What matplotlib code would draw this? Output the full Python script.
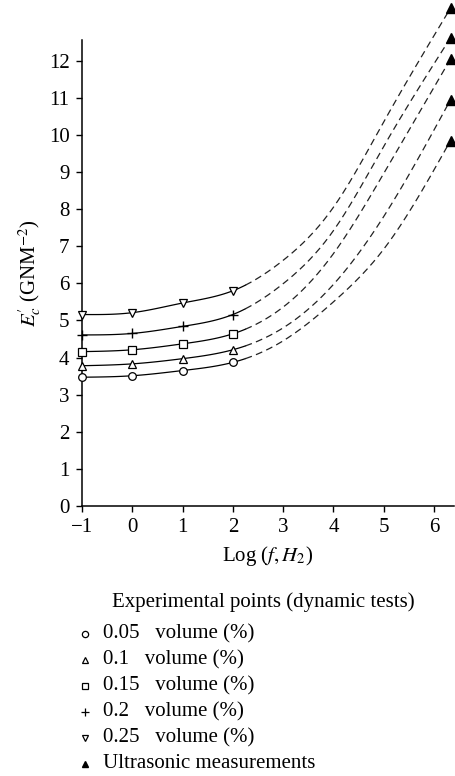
import numpy as np
import matplotlib.pyplot as plt

plt.rcParams['font.family'] = ['Liberation Serif', 'DejaVu Serif']
plt.rcParams['mathtext.fontset'] = 'stix'

# dynamic test frequencies (log f) and storage modulus per filler volume
log_f = [-1, 0, 1, 2]
volumes = ['0.05', '0.1', '0.15', '0.2', '0.25']
E_dyn = {
    '0.05': [3.47, 3.51, 3.65, 3.87],
    '0.1': [3.78, 3.83, 3.97, 4.21],
    '0.15': [4.16, 4.21, 4.37, 4.64],
    '0.2': [4.61, 4.65, 4.84, 5.16],
    '0.25': [5.16, 5.21, 5.47, 5.80],
}
markers = {'0.05': 'o', '0.1': '^', '0.15': 's', '0.2': '+', '0.25': 'v'}

# extrapolated master-curve values between the two test ranges
log_f_mid = [3, 4, 5]
E_mid = {
    '0.05': [4.45, 5.50, 6.92],
    '0.1': [4.80, 5.97, 7.80],
    '0.15': [5.36, 6.80, 8.96],
    '0.2': [5.99, 7.42, 9.69],
    '0.25': [6.62, 8.05, 10.35],
}

# ultrasonic measurements
log_f_us = 6.33
E_us = {'0.05': 9.85, '0.1': 10.95, '0.15': 12.05, '0.2': 12.62, '0.25': 13.42}

solid_end = 2.25
fs = 15


def natural_spline(xk, yk, xs):
    # plain natural cubic spline through the knots
    xk = np.asarray(xk, float)
    yk = np.asarray(yk, float)
    n = len(xk)
    h = np.diff(xk)
    A = np.zeros((n, n))
    r = np.zeros(n)
    A[0, 0] = A[-1, -1] = 1
    for i in range(1, n - 1):
        A[i, i - 1] = h[i - 1]
        A[i, i] = 2 * (h[i - 1] + h[i])
        A[i, i + 1] = h[i]
        r[i] = 3 * ((yk[i + 1] - yk[i]) / h[i] - (yk[i] - yk[i - 1]) / h[i - 1])
    c = np.linalg.solve(A, r)
    b = (yk[1:] - yk[:-1]) / h - h * (2 * c[:-1] + c[1:]) / 3
    d = (c[1:] - c[:-1]) / (3 * h)
    idx = np.clip(np.searchsorted(xk, xs) - 1, 0, n - 2)
    t = xs - xk[idx]
    return yk[idx] + b[idx] * t + c[idx] * t ** 2 + d[idx] * t ** 3


fig = plt.figure(figsize=(4.56, 7.76), dpi=100)
ax = fig.add_axes([0.1798, 0.348, 0.816, 0.600])

for v in volumes:
    xk = log_f + log_f_mid + [log_f_us]
    yk = E_dyn[v] + E_mid[v] + [E_us[v]]
    xs1 = np.linspace(-1, solid_end, 100)
    xs2 = np.linspace(solid_end, log_f_us, 200)
    ax.plot(xs1, natural_spline(xk, yk, xs1), color='black', lw=0.9)
    ax.plot(xs2, natural_spline(xk, yk, xs2), color='#222222', lw=0.9,
            dashes=(5.5, 3.5), clip_on=False)
    if markers[v] == '+':
        ax.plot(log_f, E_dyn[v], ls='none', marker='+', ms=7, mew=1.0,
                color='black', clip_on=False, zorder=3)
    else:
        ax.plot(log_f, E_dyn[v], ls='none', marker=markers[v], ms=5.5,
                mfc='white', mec='black', mew=0.9, clip_on=False, zorder=3)
    ax.plot([log_f_us], [E_us[v]], ls='none', marker='^', ms=6.5,
            color='black', clip_on=False, zorder=3)

ax.set_xlim(-1, 6.4)
ax.set_ylim(0, 12.55)
ax.set_xticks(range(-1, 7))
ax.set_xticklabels(['\u22121'] + [str(i) for i in range(0, 7)])
ax.set_yticks(range(0, 13))
for s in ['top', 'right']:
    ax.spines[s].set_visible(False)
for s in ['left', 'bottom']:
    ax.spines[s].set_linewidth(1.1)
ax.tick_params(direction='out', length=4, width=1, labelsize=fs, pad=5)
ax.set_xlabel(r'Log ($f, H_2$)', fontsize=fs, labelpad=5)
ax.set_ylabel(r"$E_c^{\prime}$ (GNM$^{-2}$)", fontsize=fs, labelpad=4)

# legend block below the axes
leg = fig.add_axes([0, 0, 1, 0.26])
leg.set_xlim(0, 456)
leg.set_ylim(776 * 0.26, 0)
leg.axis('off')
top = 776 * (1 - 0.26)
leg.text(112, 602 - top, 'Experimental points (dynamic tests)', fontsize=fs,
         va='center', ha='left')
rows = [(v, markers[v], v + '   volume (%)') for v in volumes]
rows.append(('us', '^', 'Ultrasonic measurements'))
for i, (v, m, lab) in enumerate(rows):
    y = 634 + i * 26 - top
    if v == 'us':
        leg.plot(85, y, marker='^', ms=5, color='black')
    elif m == '+':
        leg.plot(85, y, marker='+', ms=6, mew=0.9, color='black')
    else:
        leg.plot(85, y, marker=m, ms=4.5, mfc='white', mec='black', mew=0.9)
    leg.text(103, y, lab, fontsize=fs, va='center', ha='left')

fig.savefig('out.png', dpi=100)
